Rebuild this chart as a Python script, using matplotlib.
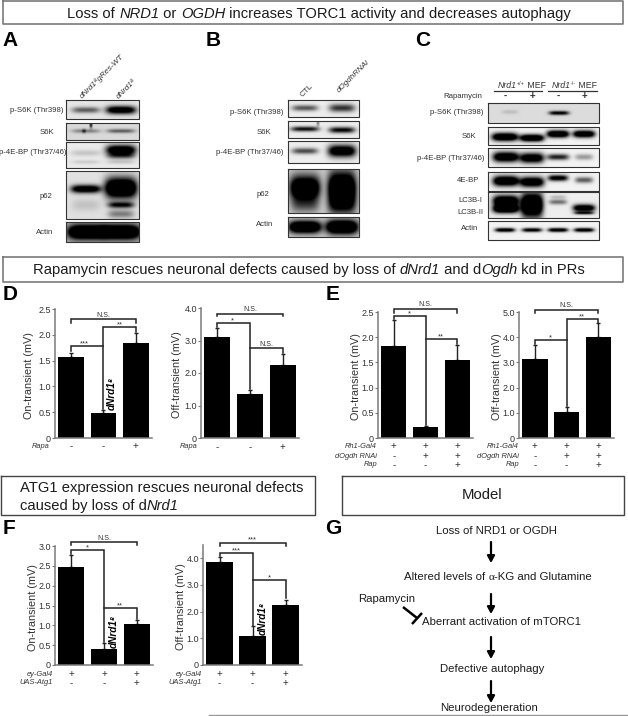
import numpy as np
import matplotlib
matplotlib.use("Agg")
import matplotlib.pyplot as plt

plt.rcParams['font.family'] = ['Liberation Sans', 'DejaVu Sans']

W, H = 628, 716
fig = plt.figure(figsize=(W / 100, H / 100), dpi=100)
ov = fig.add_axes([0, 0, 1, 1], zorder=0)
ov.axis('off')
renderer = fig.canvas.get_renderer()

TXT = '#1c1c1c'
GREY = '#7a7a7a'

# ---------- bar data ----------
dl_vals, dl_tops = [1.57, 0.48, 1.84], [1.65, 0.55, 2.04]
dr_vals, dr_tops = [3.10, 1.35, 2.25], [3.40, 1.48, 2.60]
el_vals, el_tops = [1.83, 0.22, 1.55], [2.35, 0.24, 1.85]
er_vals, er_tops = [3.15, 1.03, 4.02], [3.70, 1.25, 4.55]
fl_vals, fl_tops = [2.46, 0.41, 1.04], [2.78, 0.55, 1.13]
fr_vals, fr_tops = [3.87, 1.07, 2.25], [4.05, 1.45, 2.45]

# ---------- blot bands: (cx, cy, half-width, half-height, darkness), in image pixels ----------
BLOTS = [
    # panel A
    ((66, 139, 100, 119), .90, [(86, 110, 14, 3, .55), (121, 110, 15, 4, 1.2)]),
    ((66, 139, 123, 140), .85, [(86, 131, 14, 2, .35), (121, 131, 14, 2, .5), (91, 125, 1.5, 3, .7), (84, 131, 2, 2, .4)]),
    ((66, 139, 142, 168), .92, [(86, 153, 15, 3, .15), (86, 162, 14, 2, .12), (121, 150, 15, 5, 1.3), (121, 156, 14, 3, .5), (121, 162, 14, 2, .15)]),
    ((66, 139, 171, 219), .88, [(86, 189, 15, 4, 1.2), (86, 205, 14, 6, .12), (121, 188, 16, 10, 1.6), (121, 205, 13, 3, .85), (121, 214, 13, 4, .4)]),
    ((66, 139, 222, 242), .72, [(87, 232, 19, 7, 1.5), (121, 232, 19, 7, 1.5)]),
    # panel B
    ((288, 359, 100, 117), .93, [(305, 108, 13, 3, .6), (342, 108, 13, 4, .75)]),
    ((288, 359, 121, 138), .93, [(305, 129, 14, 2.5, .9), (342, 130, 13, 3, .95), (318, 123, 1.5, 3, .4)]),
    ((288, 359, 141, 163), .93, [(305, 151, 13, 3, .65), (342, 151, 14, 6, 1.3)]),
    ((288, 359, 169, 213), .80, [(305, 188, 15, 12, 1.4), (342, 188, 14, 16, 1.5), (305, 205, 14, 8, .4), (342, 205, 14, 10, .6)]),
    ((288, 359, 217, 237), .80, [(305, 227, 16, 6, 1.5), (342, 227, 16, 7, 1.5)]),
    # panel C
    ((488, 599, 103, 123), .86, [(510, 112, 8, 2, .12), (559, 113, 10, 2, .95)]),
    ((488, 599, 127, 145), .95, [(505, 137, 13, 4, 1.5), (532, 138, 12, 3.5, 1.5), (558, 134, 11, 3.5, 1.5), (584, 134, 11, 3.5, 1.4)]),
    ((488, 599, 148, 167), .95, [(506, 157, 13, 5, 1.4), (532, 158, 12, 5, 1.3), (558, 157, 11, 3, .85), (584, 157, 9, 3, .35)]),
    ((488, 599, 172, 191), .95, [(506, 181, 13, 5, 1.5), (532, 182, 12, 5, 1.4), (558, 178, 10, 3, 1.1), (584, 180, 9, 3, .6)]),
    ((488, 599, 192, 218), .93, [(506, 201, 13, 5.5, 1.5), (506, 209, 13, 4, 1.5), (532, 205, 11, 12, 1.7), (558, 202, 9, 2.5, .5), (558, 197, 8, 2, .2), (584, 208, 11, 3.5, 1.3), (584, 213, 10, 1.5, .8)]),
    ((488, 599, 221, 240), .95, [(505, 230, 10, 2, 1.2), (532, 230, 10, 2, 1.1), (558, 230, 10, 2, 1.2), (584, 230, 10, 2, 1.2)]),
]

for (x0, x1, y0, y1), bg, bands in BLOTS:
    xs = np.arange(x0, x1, .5) + .25
    ys = np.arange(y0, y1, .5) + .25
    X, Y = np.meshgrid(xs, ys)
    dark = np.zeros_like(X)
    for cx, cy, hw, hh, d in bands:
        dark += d * np.exp(-np.abs((X - cx) / hw) ** 4 - np.abs((Y - cy) / hh) ** 2)
    img = np.clip(bg - dark, 0, 1)
    ov.imshow(img, extent=(x0, x1, y1, y0), cmap='gray', vmin=0, vmax=1, aspect='auto', interpolation='bilinear')
    ov.plot([x0, x1, x1, x0, x0], [y0, y0, y1, y1, y0], color='#333333', lw=.8)

ov.set_xlim(0, W)
ov.set_ylim(H, 0)


def label(x, y, s, size=5.6, **kw):
    kw.setdefault('ha', 'center')
    kw.setdefault('va', 'center')
    kw.setdefault('color', '#333333')
    return ov.text(x, y, s, fontsize=size, **kw)


def measure(s, size, **kw):
    a = ov.text(0, 0, '|' + s + '|', fontsize=size, **kw)
    b = ov.text(0, 0, '||', fontsize=size, **kw)
    w = a.get_window_extent(renderer).width - b.get_window_extent(renderer).width
    a.remove()
    b.remove()
    return w


def rich(x, y, runs, size, ha='center', color=TXT):
    """Lay out runs of differently styled text along one baseline. Run = (text, kwargs)."""
    ws = []
    for s, kw in runs:
        k = dict(kw)
        sc = k.pop('scale', 1)
        k.pop('rise', None)
        ws.append(measure(s, size * sc, **k))
    total = sum(ws)
    cur = x - (total / 2 if ha == 'center' else 0)
    for (s, kw), w in zip(runs, ws):
        k = dict(kw)
        sc = k.pop('scale', 1)
        rise = k.pop('rise', 0)
        ov.text(cur, y - rise, s, fontsize=size * sc, ha='left', va='baseline', color=color, **k)
        cur += w


R = {}
I = {'style': 'italic'}


def box(x0, x1, y0, y1, color='#555555', lw=1.0):
    ov.plot([x0, x1, x1, x0, x0], [y0, y0, y1, y1, y0], color=color, lw=lw)


# ---------- blot labels ----------
for x, y, s in [(37, 110, 'p-S6K (Thr398)'), (47, 132, 'S6K'), (33, 152, 'p-4E-BP (Thr37/46)'), (46, 197, 'p62'), (45, 232, 'Actin'),
                (257, 112, 'p-S6K (Thr398)'), (264, 132, 'S6K'), (250, 152, 'p-4E-BP (Thr37/46)'), (263, 194, 'p62'), (265, 224, 'Actin'),
                (457, 113, 'p-S6K (Thr398)'), (469, 137, 'S6K'), (451, 158, 'p-4E-BP (Thr37/46)'), (468, 181, '4E-BP'),
                (470, 201, 'LC3B-I'), (470, 213, 'LC3B-II'), (470, 228, 'Actin'), (463, 96, 'Rapamycin')]:
    label(x, y, s)
for x, y, s, it in [(82, 99, 'dNrd1⁸gRes-WT', True), (119, 99, 'dNrd1⁸', True),
                    (303, 97, 'CTL', False), (339, 93, 'dOgdhRNAi', True)]:
    label(x, y, s, size=5.8, ha='left', va='baseline', rotation=45, rotation_mode='anchor', style='italic' if it else 'normal')
rich(498, 88, [('Nrd1', I), ('+/+', {'scale': .6, 'rise': 3}), (' MEF', R)], 6.3, ha='left', color='#333333')
rich(552, 88, [('Nrd1', I), ('-/-', {'scale': .6, 'rise': 3}), (' MEF', R)], 6.3, ha='left', color='#333333')
ov.plot([494, 542], [91, 91], color='#333333', lw=.9)
ov.plot([548, 597], [91, 91], color='#333333', lw=.9)
for x, s in zip([505, 532, 558, 584], ['-', '+', '-', '+']):
    label(x, 96, s, size=7, fontweight='bold')

# ---------- title boxes ----------
box(3, 623, 1, 24, GREY, 1.2)
rich(319, 18, [('Loss of ', R), ('NRD1', I), (' or ', R), ('OGDH', I),
               (' increases TORC1 activity and decreases autophagy', R)], 10.6)
box(3, 623, 257, 282, GREY, 1.2)
rich(309, 274, [('Rapamycin rescues neuronal defects caused by loss of ', R), ('dNrd1', I), (' and d', R), ('Ogdh', I),
                (' kd in PRs', R)], 10.6)
box(1, 315, 476, 515, '#444444', 1.0)
rich(20, 492, [('ATG1 expression rescues neuronal defects', R)], 10.6, ha='left')
rich(20, 510, [('caused by loss of d', R), ('Nrd1', I)], 10.6, ha='left')
box(342, 624, 476, 515, '#444444', 1.0)
label(482, 495, 'Model', size=10.7, color=TXT)

# ---------- panel letters ----------
for x, y, s in [(10, 41, 'A'), (213, 40, 'B'), (423, 40, 'C'), (10, 294, 'D'), (333, 294, 'E'), (9, 528, 'F'), (333, 528, 'G')]:
    label(x, y, s, size=15, fontweight='bold', color='black')

# ---------- model flow ----------
for x, y, s in [(496, 531, 'Loss of NRD1 or OGDH'), (502, 622, 'Aberrant activation of mTORC1'), (492, 669, 'Defective autophagy'),
                (489, 708, 'Neurodegeneration'), (387, 599, 'Rapamycin')]:
    label(x, y, s, size=8.2, color=TXT)
rich(498, 580, [('Altered levels of ', R), ('α', {'family': 'Liberation Serif'}), ('-KG and Glutamine', R)], 8.2)
for y0, y1 in [(542, 563), (594, 614), (637, 659), (681, 703)]:
    ov.annotate('', xy=(491, y1), xytext=(491, y0),
                arrowprops=dict(arrowstyle='-|>,head_width=.22,head_length=.4', lw=1.6, color='black', shrinkA=0, shrinkB=0))
ov.plot([403, 417], [607, 618], color='black', lw=1.8, solid_capstyle='butt')
ov.plot([412, 422], [624, 613], color='black', lw=1.8, solid_capstyle='butt')
ov.plot([209, 628], [715, 715], color='#999999', lw=1)


# ---------- bar panels ----------
def panel(x0, x1, top, zero, vals, tops, ymax, ticks, ticklabels, ylabel, ylab_x, lines, notes,
          rows, lab_right, bottom_rows_y, mut=None):
    ax = fig.add_axes([x0 / W, 1 - zero / H, (x1 - x0) / W, (zero - top) / H], zorder=2)
    ax.patch.set_alpha(0)
    ax.bar(range(3), vals, width=.8, color='black', zorder=2)
    ax.errorbar(range(3), vals, yerr=[[0] * 3, np.array(tops) - np.array(vals)], fmt='none',
                ecolor='#222222', elinewidth=1, capsize=1.3, capthick=1, zorder=1)
    ax.set_xlim(-.5, 2.5)
    ax.set_ylim(0, ymax)
    ax.set_xticks([])
    ax.set_yticks(ticks, ticklabels)
    ax.tick_params(axis='y', length=2, width=.8, pad=1, labelsize=6.5, color=GREY, labelcolor='#333333')
    for s in ('top', 'right'):
        ax.spines[s].set_visible(False)
    for s in ('left', 'bottom'):
        ax.spines[s].set_color(GREY)
        ax.spines[s].set_linewidth(1.1)
    for pts in lines:
        px, py = zip(*pts)
        ax.plot(px, py, color='#222222', lw=1.1, clip_on=False, zorder=3, solid_joinstyle='miter')
    for nx, ny, s in notes:
        ax.text(nx, ny, s, ha='center', va='bottom', fontsize=5 if s == 'N.S.' else 5.5, color='#333333', clip_on=False,
                linespacing=.7)
    ov.text(ylab_x, (top + zero) / 2 + 2, ylabel, rotation=90, ha='center', va='center', fontsize=7.8, color='#333333')
    for (name, signs), y in zip(rows, bottom_rows_y):
        ov.text(lab_right, y, name, ha='right', va='center', fontsize=5.4, style='italic', color='#333333')
        for i, sg in enumerate(signs):
            ax.text(i, (zero - y) / (zero - top), sg, ha='center', va='center', fontsize=7, color='#333333',
                    transform=ax.get_xaxis_transform(), clip_on=False)
    if mut:
        ax.text(mut[0], mut[1], 'dNrd1⁸', rotation=90, ha='center', va='bottom', fontsize=7.2, style='italic',
                fontweight='bold', color='black', zorder=4, clip_on=False)
    return ax


panel(55, 152, 309, 438, dl_vals, dl_tops, 2.5, [0, .5, 1, 1.5, 2, 2.5], ['0', '0.5', '1.0', '1.5', '2.0', '2.5'],
      'On-transient (mV)', 29,
      [[(0, 2.22), (0, 2.3), (2, 2.3), (2, 2.22)], [(0, 1.68), (0, 1.79), (1, 1.79)],
       [(1, .56), (1, 2.15), (2, 2.15), (2, 2.06)]],
      [(1, 2.31, 'N.S.'), (.4, 1.76, '***'), (1.5, 2.12, '**')],
      [('Rapa', ['-', '-', '+'])], 50, [446], mut=(1.25, .54))

panel(201, 299, 308, 438, dr_vals, dr_tops, 4, [0, 1, 2, 3, 4], ['0', '1.0', '2.0', '3.0', '4.0'],
      'Off-transient (mV)', 177,
      [[(0, 3.75), (0, 3.83), (2, 3.83), (2, 3.75)], [(0, 3.42), (0, 3.55), (1, 3.55), (1, 1.5)],
       [(1, 2.77), (2, 2.77), (2, 2.62)]],
      [(1, 3.84, 'N.S.'), (.45, 3.5, '*'), (1.5, 2.78, 'N.S.')],
      [('Rapa', ['-', '-', '+'])], 198, [447])

panel(378, 473, 312, 438, el_vals, el_tops, 2.5, [0, .5, 1, 1.5, 2, 2.5], ['0', '0.5', '1.0', '1.5', '2.0', '2.5'],
      'On-transient (mV)', 356,
      [[(0, 2.48), (0, 2.56), (2, 2.56), (2, 2.48)], [(0, 2.37), (0, 2.43), (1, 2.43), (1, .26)],
       [(1, 1.96), (2, 1.96), (2, 1.87)]],
      [(1, 2.57, 'N.S.'), (.5, 2.4, '*'), (1.5, 1.93, '**')],
      [('Rh1-Gal4', ['+', '+', '+']), ('dOgdh RNAi', ['-', '+', '+']), ('Rap', ['-', '-', '+'])], 377, [446, 456, 465])

panel(519, 614, 312, 438, er_vals, er_tops, 5, [0, 1, 2, 3, 4, 5], ['0', '1.0', '2.0', '3.0', '4.0', '5.0'],
      'Off-transient (mV)', 497,
      [[(0, 4.98), (0, 5.08), (2, 5.08), (2, 4.98)], [(0, 3.72), (0, 3.89), (1, 3.89)],
       [(1, 1.27), (1, 4.72), (2, 4.72), (2, 4.57)]],
      [(1, 5.1, 'N.S.'), (.5, 3.83, '*'), (1.5, 4.65, '**')],
      [('Rh1-Gal4', ['+', '+', '+']), ('dOgdh RNAi', ['-', '+', '+']), ('Rap', ['-', '-', '+'])], 519, [446, 456, 465])

panel(55, 153, 546, 665, fl_vals, fl_tops, 3, [0, .5, 1, 1.5, 2, 2.5, 3], ['0', '0.5', '1.0', '1.5', '2.0', '2.5', '3.0'],
      'On-transient (mV)', 33,
      [[(0, 3.03), (0, 3.1), (2, 3.1), (2, 3.03)], [(0, 2.8), (0, 2.9), (1, 2.9), (1, .57)],
       [(1, 1.43), (2, 1.43), (2, 1.15)]],
      [(1, 3.11, 'N.S.'), (.5, 2.87, '*'), (1.5, 1.4, '**')],
      [('ey-Gal4', ['+', '+', '+']), ('UAS-Atg1', ['-', '-', '+'])], 53, [674, 683], mut=(1.3, .42))

panel(203, 302, 545, 665, fr_vals, fr_tops, 4.5, [0, 1, 2, 3, 4], ['0', '1.0', '2.0', '3.0', '4.0'],
      'Off-transient (mV)', 181,
      [[(0, 4.47), (0, 4.57), (2, 4.57), (2, 4.47)], [(0, 4.07), (0, 4.2), (1, 4.2), (1, 1.48)],
       [(1, 3.18), (2, 3.18), (2, 2.5)]],
      [(1, 4.55, '***'), (.5, 4.15, '***'), (1.5, 3.13, '*')],
      [('ey-Gal4', ['+', '+', '+']), ('UAS-Atg1', ['-', '-', '+'])], 202, [674, 683], mut=(1.3, 1.12))

fig.savefig('out.png', dpi=100)
